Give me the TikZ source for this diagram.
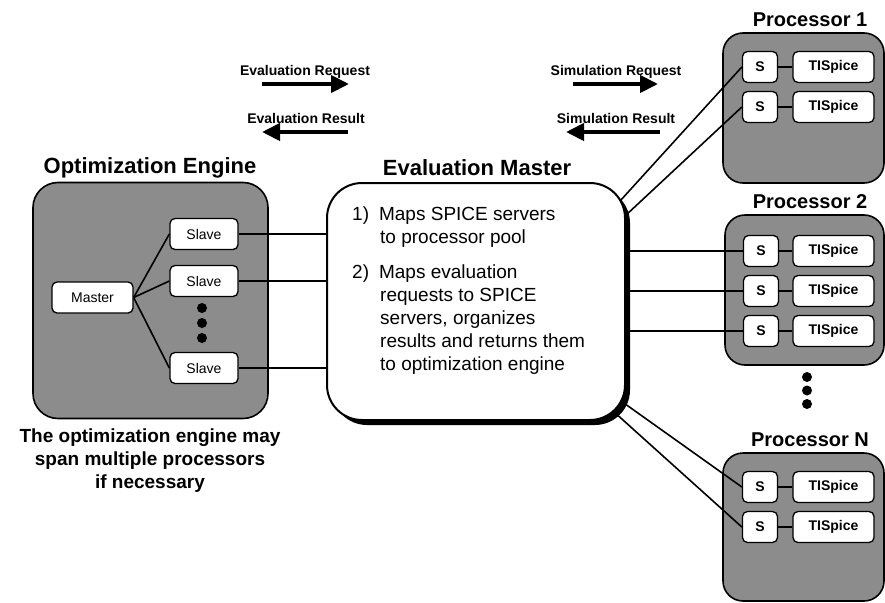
\documentclass[tikz,border=0pt]{standalone}
\usepackage{fontspec}
\setmainfont{Liberation Sans}
\usetikzlibrary{arrows.meta,shadows}

\begin{document}
\begin{tikzpicture}[x=1pt,y=-1pt]
\tikzstyle{unit} = [rectangle, draw, line width=1.6pt, fill=black!45,
rounded corners=20pt, inner sep=0pt]
\tikzstyle{block} = [rectangle, draw, line width=1.3pt, fill=white,
rounded corners=5pt, inner sep=0pt, minimum height=31pt,
font=\fontsize{14}{16}\selectfont]
\tikzstyle{sbox} = [block, minimum width=35pt, font=\fontsize{14}{16}\selectfont\bfseries]
\tikzstyle{spice} = [block, minimum width=81pt, font=\fontsize{14}{16}\selectfont\bfseries]
\tikzstyle{title} = [font=\fontsize{22}{26}\selectfont\bfseries]
\tikzstyle{ptitle} = [font=\fontsize{20}{24}\selectfont\bfseries]
\tikzstyle{tag} = [font=\fontsize{14}{16}\selectfont\bfseries]
\tikzstyle{task} = [anchor=north west, align=left, inner sep=0pt,
font=\fontsize{19}{23}\selectfont]
\tikzstyle{line} = [draw, line width=1.6pt]
\tikzstyle{flow} = [draw, line width=4pt, -{Triangle[length=18pt,width=17pt]}]
\tikzstyle{dot} = [circle, fill=black, inner sep=0pt, minimum size=10pt]

\useasboundingbox (0,0) rectangle (885,602);

% optimization engine
\node [title] (oetitle) at (150,168) {Optimization Engine};
\node [unit, rounded corners=25pt, minimum width=235pt, minimum height=236pt] (oe) at (150.5,300.5) {};
\node [block, minimum width=81pt] (master) at (92.5,297.5) {Master};
\node [block, minimum width=68pt] (slave1) at (204,234) {Slave};
\node [block, minimum width=68pt] (slave2) at (204,281) {Slave};
\node [block, minimum width=68pt] (slave3) at (204,368) {Slave};
\node [dot] (oedot1) at (202,308) {};
\node [dot] (oedot2) at (202,323) {};
\node [dot] (oedot3) at (202,338) {};
\node [align=center, font=\fontsize{19}{23}\selectfont\bfseries] (note) at (150,461)
{The optimization engine may\\span multiple processors\\if necessary};

% evaluation master
\node [title] (emtitle) at (477,168) {Evaluation Master};
\node [rectangle, draw, line width=2pt, fill=white, rounded corners=35pt,
minimum width=298pt, minimum height=237pt,
drop shadow={shadow xshift=5pt, shadow yshift=-5pt, fill=black, opacity=1}] (em) at (476,301.5) {};
\node [task] (task1) at (352,207)
{1)\hspace{10pt}Maps SPICE servers\\\hspace{28pt}to processor pool};
\node [task] (task2) at (352,265)
{2)\hspace{10pt}Maps evaluation\\\hspace{28pt}requests to SPICE\\\hspace{28pt}servers, organizes\\\hspace{28pt}results and returns them\\\hspace{28pt}to optimization engine};

% request / result arrows
\node [tag] (evreq) at (305,72) {Evaluation Request};
\node [tag] (evres) at (306,118) {Evaluation Result};
\node [tag] (simreq) at (616,72) {Simulation Request};
\node [tag] (simres) at (616,118) {Simulation Result};
\coordinate (evreqa) at (262,84);
\coordinate (evreqb) at (349,84);
\coordinate (evresa) at (348,132);
\coordinate (evresb) at (262,132);
\coordinate (simreqa) at (573,84);
\coordinate (simreqb) at (658,84);
\coordinate (simresa) at (660,132);
\coordinate (simresb) at (566,132);
\path [flow] (evreqa) -- (evreqb);
\path [flow] (evresa) -- (evresb);
\path [flow] (simreqa) -- (simreqb);
\path [flow] (simresa) -- (simresb);

% processor 1
\node [ptitle] (p1title) at (810,20) {Processor 1};
\node [unit, minimum width=161pt, minimum height=150pt] (p1) at (803.5,108) {};
\node [sbox] (p1s1) at (760,67) {S};
\node [spice] (p1t1) at (833.5,67) {TISpice};
\node [sbox] (p1s2) at (760,107) {S};
\node [spice] (p1t2) at (833.5,107) {TISpice};

% processor 2
\node [ptitle] (p2title) at (810,202) {Processor 2};
\node [unit, minimum width=159pt, minimum height=150pt] (p2) at (804.5,290) {};
\node [sbox] (p2s1) at (761,251) {S};
\node [spice] (p2t1) at (833.5,251) {TISpice};
\node [sbox] (p2s2) at (761,291) {S};
\node [spice] (p2t2) at (833.5,291) {TISpice};
\node [sbox] (p2s3) at (761,331) {S};
\node [spice] (p2t3) at (833.5,331) {TISpice};
\node [dot] (pdot1) at (807,377) {};
\node [dot] (pdot2) at (807,390.5) {};
\node [dot] (pdot3) at (807,404) {};

% processor N
\node [ptitle] (pntitle) at (810,440) {Processor N};
\node [unit, minimum width=161pt, minimum height=148pt] (pn) at (803.5,527) {};
\node [sbox] (pns1) at (760,487) {S};
\node [spice] (pnt1) at (833.5,487) {TISpice};
\node [sbox] (pns2) at (760,527) {S};
\node [spice] (pnt2) at (833.5,527) {TISpice};

% connections
\coordinate (emne1) at (620,201);
\coordinate (emne2) at (625,216);
\coordinate (emse1) at (621,401);
\coordinate (emse2) at (613,411);
\tikzstyle{every path}=[line]
\path (master.east) -- (slave1.west);
\path (master.east) -- (slave2.west);
\path (master.east) -- (slave3.west);
\path (slave1.east) -- (slave1.east -| em.west);
\path (slave2.east) -- (slave2.east -| em.west);
\path (slave3.east) -- (slave3.east -| em.west);
\path (emne1) -- (p1s1.west);
\path (emne2) -- (p1s2.west);
\path (p2s1.west -| em.east) -- (p2s1.west);
\path (p2s2.west -| em.east) -- (p2s2.west);
\path (p2s3.west -| em.east) -- (p2s3.west);
\path (emse1) -- (pns1.west);
\path (emse2) -- (pns2.west);
\path (p1s1) -- (p1t1);
\path (p1s2) -- (p1t2);
\path (p2s1) -- (p2t1);
\path (p2s2) -- (p2t2);
\path (p2s3) -- (p2t3);
\path (pns1) -- (pnt1);
\path (pns2) -- (pnt2);

\end{tikzpicture}
\end{document}
